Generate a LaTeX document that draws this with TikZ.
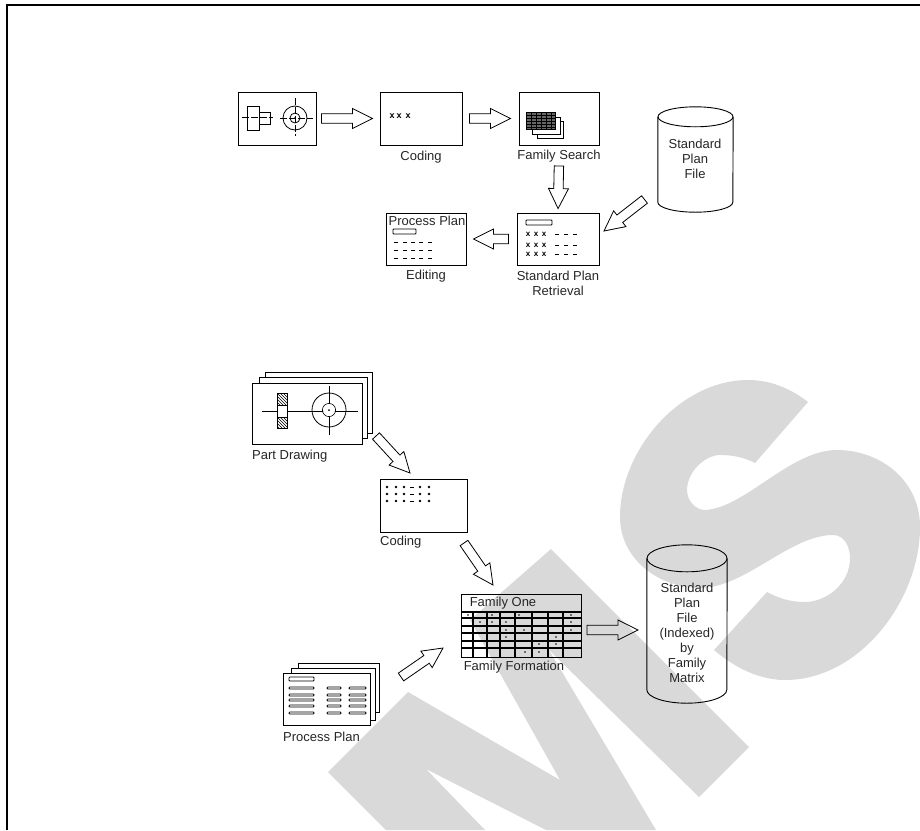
\documentclass[tikz,border=0pt]{standalone}
\usepackage{fontspec}
\setmainfont{Liberation Sans}
\usepackage{tikz}
\usetikzlibrary{
    calc,
    patterns
}
\definecolor{markgray}{gray}{0.85}
\tikzset{
    panel/.style={draw, line width=0.9pt, inner sep=0pt},
    caption/.style={font=\fontsize{13}{15}\selectfont, text=black!85, inner sep=0pt, align=center},
    sheet/.style={draw, line width=0.8pt, fill=white},
    pill/.style={draw, line width=0.8pt, fill=white, rounded corners=0.8pt},
    gapa/.store in=\gapa, gapb/.store in=\gapb, gapa=0pt, gapb=0pt,
    blockarrow/.style={draw, line width=0.8pt, line join=miter, to path={
        let \p0=($(\tikztostart)!\gapa!(\tikztotarget)$),
            \p9=($(\tikztotarget)!\gapb!(\tikztostart)$),
            \p5=($(\p9)!20pt!(\p0)$) in
        ($(\p0)!4.7pt!90:(\p9)$) -- ($(\p5)!4.7pt!-90:(\p0)$) -- ($(\p5)!10pt!-90:(\p0)$)
        -- (\p9) -- ($(\p5)!10pt!90:(\p0)$) -- ($(\p5)!4.7pt!90:(\p0)$)
        -- ($(\p0)!4.7pt!-90:(\p9)$) -- cycle}}
}
% outline of a drum over a named node: name, half width, lid height
\newcommand{\drumline}[3]{
    \draw[line width=0.9pt] ($(#1.north)+(0,#3)$) ellipse [x radius=#2pt, y radius=#3pt];
    \draw[line width=0.9pt] ($(#1.north west)+(0,#3)$) -- ($(#1.south west)+(0,-#3)$)
        arc [start angle=180, end angle=360, x radius=#2pt, y radius=#3pt]
        -- ($(#1.north east)+(0,#3)$);
}

\begin{document}
\begin{tikzpicture}[x=1pt,y=-1pt]
\useasboundingbox (0,0) rectangle (920,830);
\clip (0,0) rectangle (920,830);

% Watermark
\fill[markgray] (408,692) -- (328,772) -- (386,830) -- (485,830) -- (426,769) -- (546,830)
    -- (656,830) -- (549,650) -- (699,797) -- (749,747) -- (551,549) -- (470,620) -- (560,780) -- cycle;
\fill[markgray] (808,402) .. controls (790,388) and (770,380) .. (748,380)
    .. controls (680,380) and (620,450) .. (620,517)
    .. controls (620,560) and (660,588) .. (700,588)
    .. controls (745,588) and (790,535) .. (833,535)
    .. controls (845,535) and (850,548) .. (850,558)
    .. controls (850,585) and (825,602) .. (805,602)
    .. controls (790,602) and (778,598) .. (767,592)
    -- (714,650) .. controls (735,668) and (760,680) .. (785,680)
    .. controls (860,680) and (920,600) .. (920,527)
    .. controls (920,480) and (880,450) .. (837,450)
    .. controls (790,450) and (745,508) .. (705,510)
    .. controls (695,510) and (687,500) .. (687,490)
    .. controls (687,472) and (705,455) .. (720,455)
    .. controls (735,455) and (745,458) .. (755,463) -- cycle;

% Frame
\draw[line width=2pt] (6.5,830) -- (6.5,5) -- (920,5);

% Upper chain
\node[panel, minimum width=78, minimum height=53] (drawing) at (277,118.5) {};
\node[panel, minimum width=82, minimum height=53] (coding) at (421,118.5) {};
\node[panel, minimum width=80, minimum height=53] (search) at (559,118.5) {};
\node[panel, minimum width=82, minimum height=52] (retrieval) at (558,239) {};
\node[panel, minimum width=80, minimum height=52] (editing) at (426,239) {};
\node[caption, below=5pt] (codinglabel) at (coding.south) {Coding};
\node[caption, below=4pt] (searchlabel) at (search.south) {Family Search};
\node[caption, below=5pt] (retrievallabel) at (retrieval.south) {Standard Plan\\Retrieval};
\node[caption, below=4pt] (editinglabel) at (editing.south) {Editing};
\node[inner sep=0pt, minimum width=75, minimum height=105] (file) at (695.5,159.5) {};
\drumline{file}{37.5}{10}
\node[caption] (filetext) at (695,159) {Standard\\Plan\\File};

\coordinate (fileout) at (644.5,199.5);
\coordinate (retrievalin) at (604,231);
\draw[blockarrow, gapa=5pt, gapb=7pt] (drawing.east) to (coding.west);
\draw[blockarrow, gapa=7pt, gapb=8pt] (coding.east) to (search.west);
\draw[blockarrow, gapa=4pt, gapb=4pt] (searchlabel.south) to (retrieval.north);
\draw[blockarrow, gapa=8pt, gapb=7pt] (retrieval.west) to (editing.east);
\draw[blockarrow] (fileout) to (retrievalin);

% Part sketch
\draw[line width=0.8pt] (247,106) rectangle (259,130) (259,112) rectangle (270,124);
\draw[line width=0.7pt, dash pattern=on 7pt off 2pt] (242,117) -- (273,117) (280,118) -- (313,118) (295,98) -- (295,136);
\draw[line width=0.8pt] (295,118) circle (12) circle (5);
\fill (295,118) circle (1);

% Codes
\foreach \x in {392,399,408} \node[font=\fontsize{9}{9}\selectfont\bfseries, inner sep=0pt] at (\x,116) {x};

% Cards
\draw[sheet] (537,121) rectangle (563,138);
\draw[sheet] (532,117) rectangle (560,134);
\draw[sheet, fill=black!60] (526,112) rectangle (555,129);
\foreach \y in {115,118,121,124,127} \draw[line width=0.8pt] (526,\y) -- (555,\y);
\foreach \x in {531,536,541,546,551} \draw[line width=0.6pt] (\x,112) -- (\x,129);

% Retrieval list
\draw[pill] (526,220) rectangle (552,225);
\foreach \y in {234,245,254} {
    \foreach \x in {528,536,544} \node[font=\fontsize{8}{8}\selectfont\bfseries, inner sep=0pt] at (\x,\y) {x};
    \foreach \x in {555,564,573} \draw[line width=0.8pt] (\x,\y) -- ++(4,0);
}

% Edited plan
\node[caption, anchor=center] (plantitle) at (427,221) {Process Plan};
\draw[pill] (393,229) rectangle (416,234);
\foreach \y in {242,250,258}
    \foreach \x in {394,403,411,419,428} \draw[line width=0.7pt] (\x,\y) -- ++(4,0);

% Lower part: part drawing stack
\draw[sheet] (265,372) rectangle (372,433);
\draw[sheet] (259,377) rectangle (367,438);
\node[panel, fill=white, minimum width=110, minimum height=61] (partstack) at (307,413.5) {};
\node[caption, anchor=west] (partlabel) at (252,456) {Part Drawing};
\draw[line width=0.8pt] (262,411) -- (358,411) (329,386) -- (329,435);
\draw[line width=0.8pt, fill=white] (277,393) rectangle (287,428);
\draw[pattern=north west lines] (277,393) rectangle (287,405) (277,417) rectangle (287,428);
\draw[line width=0.8pt] (329,410) circle (17) circle (6.5);
\fill[white] (329,410) circle (6);
\fill (329,410) circle (1);

% Coding sheet
\node[panel, minimum width=87, minimum height=53] (coding2) at (423.5,505.5) {};
\node[caption, anchor=west] (coding2label) at (380,542) {Coding};
\foreach \y in {487,494,501} {
    \foreach \x in {387,396,404,420,429} \fill (\x,\y) circle (1.4);
    \draw[line width=0.8pt] (410,\y) -- ++(4,0);
}

% Family table
\node[panel, minimum width=120, minimum height=63] (family) at (521,625.5) {};
\node[caption, anchor=center] (familytitle) at (503,603) {Family One};
\node[caption, anchor=center] (familylabel) at (514,667) {Family Formation};
\foreach \y in {612,618,626,633,641,648} \draw[line width=1.1pt] (461,\y) -- (581,\y);
\foreach \x in {473,487,500,515,532,548,563} \draw[line width=1.1pt] (\x,612) -- (\x,657);
\foreach \x/\y in {468/615,492/615,519/615,571/615,480/622,492/622,506/622,571/622,506/630,524/630,571/630,506/637,539/644,556/637,556/644,525/652,539/652}
    \fill (\x,\y) circle (0.9);

% Process plan stack
\draw[sheet] (298,663) rectangle (379,712);
\draw[sheet] (291,668) rectangle (375,720);
\node[panel, fill=white, minimum width=87, minimum height=52] (planstack) at (326.5,699) {};
\node[caption, anchor=west] (planlabel) at (283,737) {Process Plan};
\draw[pill] (289,677) rectangle (314,681);
\foreach \y in {688,695,700,706,713} {
    \draw[pill] (289,\y-1) rectangle (314,\y+1);
    \draw[pill] (327,\y-1) rectangle (341,\y+1);
    \draw[pill] (349,\y-1) rectangle (366,\y+1);
}

% Indexed file
\node[inner sep=0pt, minimum width=80, minimum height=158] (indexed) at (687,624) {};
\drumline{indexed}{40}{13.5}
\node[caption] (indexedtext) at (687,632.5) {Standard\\Plan\\File\\(Indexed)\\by\\Family\\Matrix};

\coordinate (partout) at (376,436);
\coordinate (codingin) at (410,473);
\coordinate (codingout) at (464,543);
\coordinate (familyin) at (493,585);
\coordinate (planout) at (401,677);
\coordinate (planin) at (443,648);
\coordinate (familyout) at (587,630);
\coordinate (indexedin) at (638,630);
\draw[blockarrow] (partout) to (codingin);
\draw[blockarrow] (codingout) to (familyin);
\draw[blockarrow] (planout) to (planin);
\draw[blockarrow] (familyout) to (indexedin);

\end{tikzpicture}
\end{document}
